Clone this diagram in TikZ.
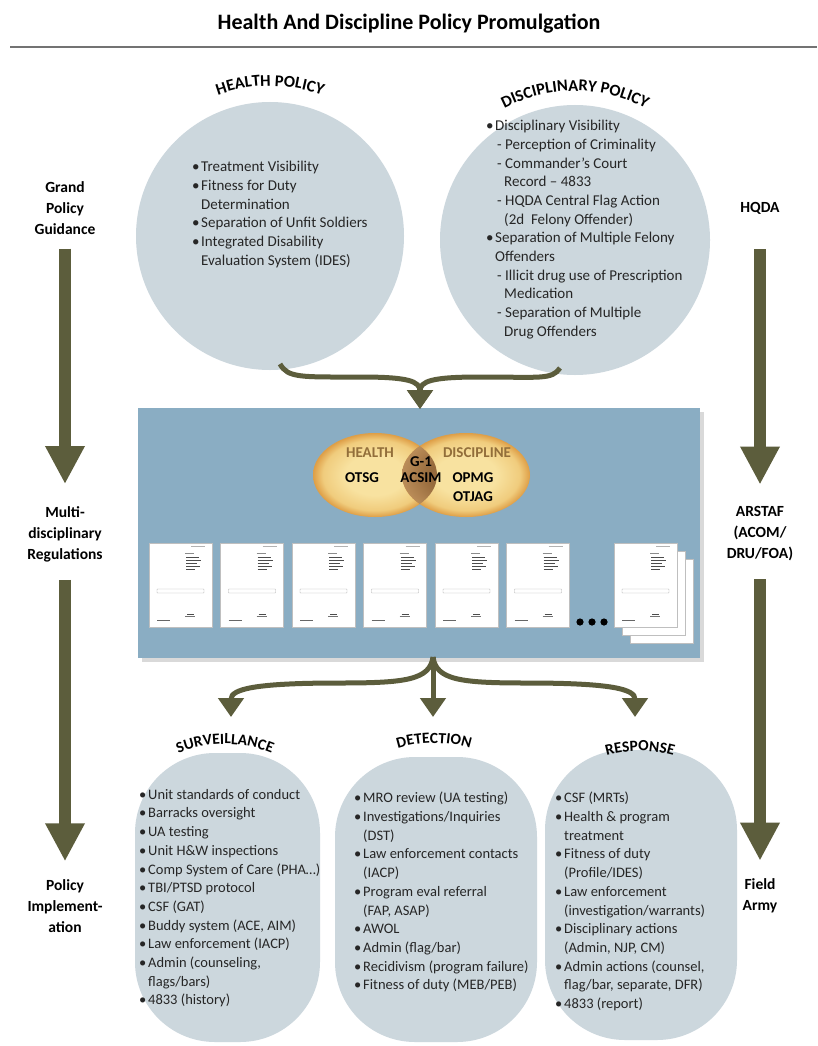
\documentclass[tikz,border=0pt]{standalone}
\usepackage{fontspec}
\setmainfont{Carlito}
\usetikzlibrary{arrows.meta,decorations.text}
\definecolor{arrowc}{RGB}{92,93,60}
\definecolor{bubble}{RGB}{204,215,221}
\definecolor{boxc}{RGB}{138,173,195}
\definecolor{vin}{RGB}{248,226,160}
\definecolor{vmid}{RGB}{240,204,125}
\definecolor{vout}{RGB}{222,158,70}
\definecolor{lensin}{RGB}{150,106,60}
\definecolor{lensout}{RGB}{186,140,88}
\definecolor{venntxt}{RGB}{146,110,58}
\definecolor{txt}{RGB}{38,38,38}
\pgfdeclareradialshading{vennshade}{\pgfpoint{0bp}{0bp}}{color(0bp)=(vin); color(12bp)=(vin); color(21bp)=(vmid); color(25bp)=(vout); color(50bp)=(vout)}
\pgfdeclareradialshading{lensshade}{\pgfpoint{0bp}{0bp}}{color(0bp)=(lensin); color(14bp)=(lensin); color(25bp)=(lensout); color(50bp)=(lensout)}
\newcommand\bl{\makebox[9pt][l]{\textbullet}}
\newcommand\ind{\hspace*{9pt}}
\newcommand\docpage[2]{%
 \begin{scope}[shift={(#1,#2)}]
  \fill[white] (0,0) rectangle (63,84);
  \draw[black!25, line width=0.4pt] (0,0) rectangle (63,84);
  \draw[black!30, line width=0.4pt] (42,3) -- (56,3);
  \draw[black!45, line width=0.4pt] (36,10) -- (45,10);
  \draw[black!70, line width=0.8pt] (37,14) -- (50,14);
  \draw[black!70, line width=0.8pt] (37,17) -- (52,17);
  \draw[black!70, line width=0.8pt] (37,20) -- (48,20);
  \draw[black!70, line width=0.8pt] (37,23) -- (51,23);
  \draw[black!70, line width=0.8pt] (37,26) -- (46,26);
  \draw[black!30, line width=0.4pt, rounded corners=0.5pt] (8,46) rectangle (55,50);
  \draw[black!70, line width=0.9pt] (38,71) -- (45,71);
  \draw[black!55, line width=0.5pt] (36,73.5) -- (46,73.5);
  \draw[black!60, line width=0.6pt] (8,77) -- (21,77);
 \end{scope}}
\newcommand\blankpage[2]{%
  \fill[white] (#1,#2) rectangle ++(63,84);
  \draw[black!25, line width=0.4pt] (#1,#2) rectangle ++(63,84);}
\begin{document}
\begin{tikzpicture}[x=1pt,y=-1pt,
  listtext/.style={font=\fontsize{14.5}{18.7}\selectfont, text=txt, align=left, inner sep=0, anchor=north west},
  toplist/.style={listtext, font=\fontsize{15}{18.7}\selectfont},
  sidelabel/.style={font=\fontsize{15.5}{21}\selectfont\bfseries, align=center, inner sep=0},
  vennlabel/.style={font=\fontsize{15}{17}\selectfont\bfseries, inner sep=0},
  bubblebox/.style={fill=bubble, rounded corners=80pt, inner sep=0},
  curvearrow/.style={draw=arrowc, line width=5pt, -{Triangle[width=25pt,length=19pt]}},
  sidearrow/.style={draw=arrowc, line width=12pt, -{Triangle[width=37pt,length=38pt]}},
  arclabel/.style={decorate, decoration={text along path, text align=center, text={#1}}}
]
\useasboundingbox (0,0) rectangle (817,1046);
\fill[white] (0,0) rectangle (817,1046);

% title
\node[font=\fontsize{22}{26}\selectfont\bfseries] (title) at (409,24) {Health And Discipline Policy Promulgation};
\coordinate (ruleL) at (10,47);
\coordinate (ruleR) at (817,47);
\draw[black!55, line width=1.4pt] (ruleL) -- (ruleR);

% top policy circles
\node[circle, fill=bubble, minimum size=268pt, inner sep=0] (hp) at (270,236) {};
\node[circle, fill=bubble, minimum size=270pt, inner sep=0] (dp) at (575,240) {};
\path[arclabel={|\fontsize{16.5}{16.5}\selectfont\bfseries|HEALTH POLICY}] (270,238) ++(-130:152) arc[start angle=-130, end angle=-50, radius=152];
\path[arclabel={|\fontsize{16.5}{16.5}\selectfont\bfseries|DISCIPLINARY POLICY}] (575,244) ++(-140:153) arc[start angle=-140, end angle=-40, radius=153];

\node[toplist] (hpl) at (192,161) {\bl Treatment Visibility\\ \bl Fitness for Duty\\ \ind Determination\\ \bl Separation of Unfit Soldiers\\ \bl Integrated Disability\\ \ind Evaluation System (IDES)};
\node[toplist] (dpl) at (486,120) {\bl Disciplinary Visibility\\
\hspace*{11pt}- Perception of Criminality\\
\hspace*{11pt}- Commander’s Court\\
\hspace*{18pt}Record – 4833\\
\hspace*{11pt}- HQDA Central Flag Action\\
\hspace*{18pt}(2d\ \ Felony Offender)\\
\bl Separation of Multiple Felony\\
\ind Offenders\\
\hspace*{11pt}- Illicit drug use of Prescription\\
\hspace*{18pt}Medication\\
\hspace*{11pt}- Separation of Multiple\\
\hspace*{18pt}Drug Offenders};

% side labels
\node[sidelabel] (gpg) at (65,208) {Grand\\Policy\\Guidance};
\node[sidelabel] (mdr) at (65,534) {Multi-\\disciplinary\\Regulations};
\node[sidelabel] (pia) at (65,906) {Policy\\Implement-\\ation};
\node[sidelabel] (hq) at (760,208) {HQDA};
\node[sidelabel] (ars) at (760,534) {ARSTAF\\(ACOM/\\DRU/FOA)};
\node[sidelabel] (fa) at (760,896) {Field\\Army};
\draw[sidearrow, shorten <=14pt, shorten >=22pt] (gpg) -- (mdr);
\draw[sidearrow, shorten <=18pt, shorten >=18pt] (mdr) -- (pia);
\draw[sidearrow, shorten <=35pt, shorten >=22pt] (hq) -- (ars);
\draw[sidearrow, shorten <=18pt, shorten >=18pt] (ars) -- (fa);

% central regulation box
\fill[black, opacity=0.15] (142,412) rectangle (704,662);
\node[rectangle, fill=boxc, minimum width=562pt, minimum height=250pt, inner sep=0] (reg) at (419,533) {};

% Venn
\shade[shading=vennshade] (375,475) ellipse[x radius=62, y radius=42];
\shade[shading=vennshade] (466,475) ellipse[x radius=64, y radius=42];
\begin{scope}
  \clip (375,475) ellipse[x radius=62, y radius=42];
  \shade[shading=lensshade] (466,475) ellipse[x radius=64, y radius=42];
\end{scope}
\node[vennlabel, text=venntxt] (vh) at (370,453) {HEALTH};
\node[vennlabel, text=venntxt] (vd) at (477,453) {DISCIPLINE};
\node[vennlabel] (g1) at (421,462) {G-1};
\node[vennlabel] (acsim) at (421,478) {ACSIM};
\node[vennlabel] (otsg) at (362,478) {OTSG};
\node[vennlabel] (opmg) at (473,478) {OPMG};
\node[vennlabel] (otjag) at (473,497) {OTJAG};

% regulation documents
\foreach \i in {0,...,5} {\docpage{149+71.5*\i}{543}}
\fill (580,622) circle[radius=3.6];
\fill (592,622) circle[radius=3.6];
\fill (604,622) circle[radius=3.6];
\blankpage{630}{559}
\blankpage{622}{551}
\docpage{614}{543}

% arrows into the box
\coordinate (hpout) at (280,364);
\coordinate (dpout) at (560,368);
\coordinate (regin) at (420,409);
\draw[curvearrow] (hpout) .. controls (288,378) and (300,377) .. (360,377) .. controls (408,377) and (420,381) .. (regin);
\draw[curvearrow] (dpout) .. controls (552,380) and (540,377) .. (480,377) .. controls (432,377) and (420,381) .. (regin);

% bottom shapes
\node[bubblebox, minimum width=185pt, minimum height=289pt] (sv) at (227.5,897.5) {};
\node[bubblebox, minimum width=202pt, minimum height=285pt] (dt) at (436,899.5) {};
\node[bubblebox, minimum width=192pt, minimum height=290pt] (rs) at (641,895) {};

% arrows out of the box
\coordinate (regout) at (433,657);
\coordinate (svin) at (231,717);
\coordinate (dtin) at (433,717);
\coordinate (rsin) at (635,717);
\draw[curvearrow] (regout) .. controls (430,680) and (405,683) .. (340,683) .. controls (255,683) and (231,689) .. (svin);
\draw[curvearrow] (regout) -- (dtin);
\draw[curvearrow] (regout) .. controls (436,680) and (461,683) .. (526,683) .. controls (611,683) and (635,689) .. (rsin);

\path[arclabel={|\fontsize{15.5}{15.5}\selectfont\bfseries|SURVEILLANCE}] (225,866) ++(-130:122) arc[start angle=-130, end angle=-50, radius=122];
\path[arclabel={|\fontsize{15.5}{15.5}\selectfont\bfseries|DETECTION}] (434,865) ++(-130:122) arc[start angle=-130, end angle=-50, radius=122];
\path[arclabel={|\fontsize{15.5}{15.5}\selectfont\bfseries|RESPONSE}] (640,873) ++(-130:122) arc[start angle=-130, end angle=-50, radius=122];

\node[listtext] (svl) at (139,789) {\bl Unit standards of conduct\\ \bl Barracks oversight\\ \bl UA testing\\ \bl Unit H\&W inspections\\ \bl Comp System of Care (PHA…)\\ \bl TBI/PTSD protocol\\ \bl CSF (GAT)\\ \bl Buddy system (ACE, AIM)\\ \bl Law enforcement (IACP)\\ \bl Admin (counseling,\\ \ind flags/bars)\\ \bl 4833 (history)};
\node[listtext] (dtl) at (354,792) {\bl MRO review (UA testing)\\ \bl Investigations/Inquiries\\ \ind (DST)\\ \bl Law enforcement contacts\\ \ind (IACP)\\ \bl Program eval referral\\ \ind (FAP, ASAP)\\ \bl AWOL\\ \bl Admin (flag/bar)\\ \bl Recidivism (program failure)\\ \bl Fitness of duty (MEB/PEB)};
\node[listtext] (rsl) at (555,792) {\bl CSF (MRTs)\\ \bl Health \& program\\ \ind treatment\\ \bl Fitness of duty\\ \ind (Profile/IDES)\\ \bl Law enforcement\\ \ind (investigation/warrants)\\ \bl Disciplinary actions\\ \ind (Admin, NJP, CM)\\ \bl Admin actions (counsel,\\ \ind flag/bar, separate, DFR)\\ \bl 4833 (report)};
\end{tikzpicture}
\end{document}
